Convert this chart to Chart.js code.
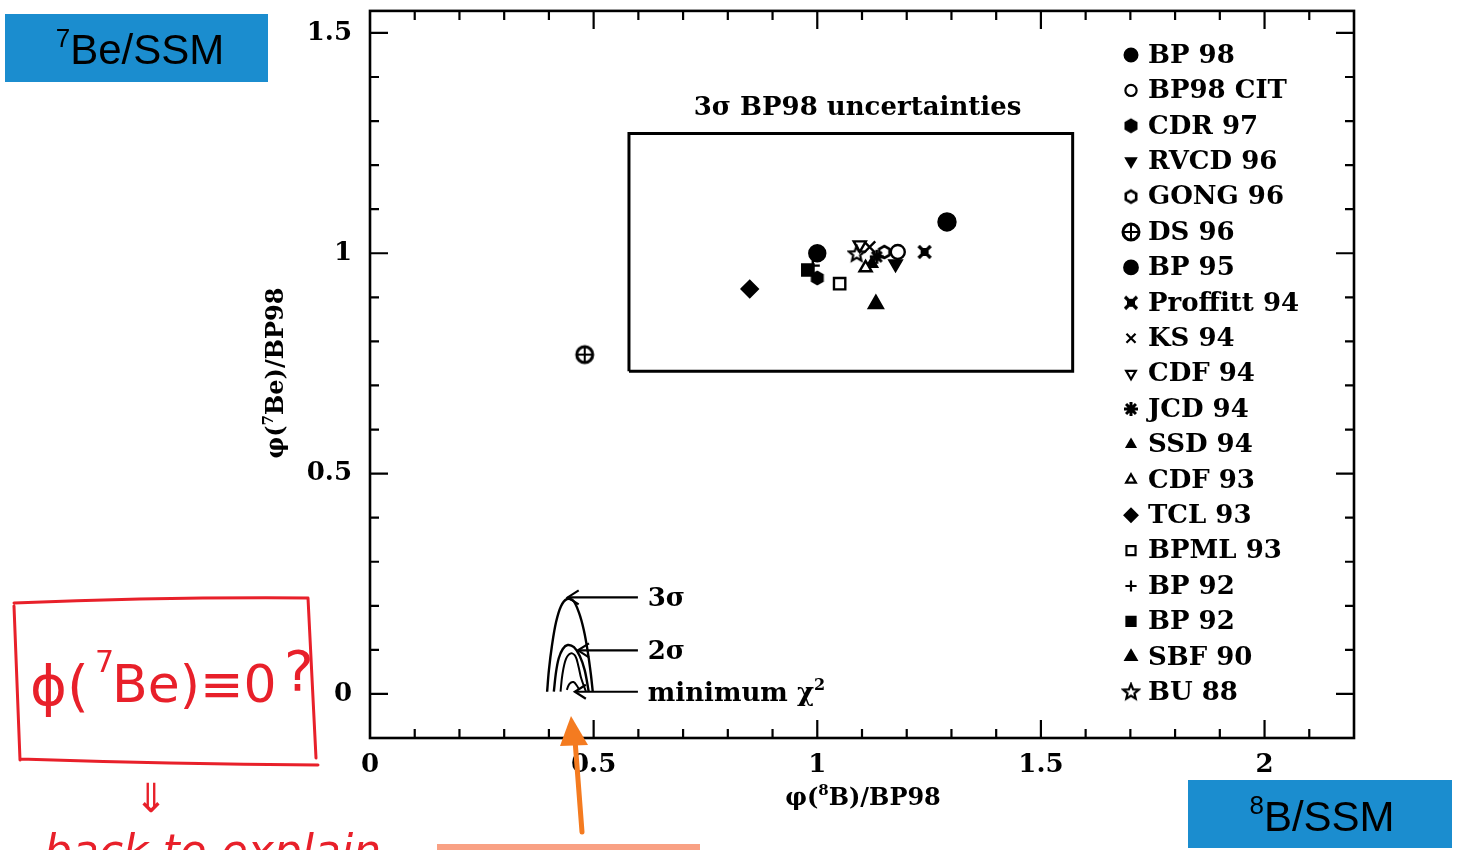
<!DOCTYPE html>
<html>
<head>
<meta charset="utf-8">
<script src="https://cdn.jsdelivr.net/npm/chart.js@4.4.1/dist/chart.umd.min.js"></script>
<style>
  html, body { margin: 0; padding: 0; background: #fff; }
  #wrap { position: relative; width: 1461px; height: 850px; }
</style>
</head>
<body>
<div id="wrap"><canvas id="fluxChart"></canvas></div>
<script>
const SERIF = '"DejaVu Serif", serif';
const SANS = '"Liberation Sans", Arial, sans-serif';

// Solar model predictions, fluxes normalised to BP98
const models = ['BP 98', 'BP98 CIT', 'CDR 97', 'RVCD 96', 'GONG 96', 'DS 96', 'BP 95', 'Proffitt 94', 'KS 94',
  'CDF 94', 'JCD 94', 'SSD 94', 'CDF 93', 'TCL 93', 'BPML 93', 'BP 92', 'BP 92', 'SBF 90', 'BU 88'];
const phiB8 = [1.00, 1.18, 1.00, 1.175, 1.15, 0.48, 1.29, 1.24, 1.117,
  1.095, 1.133, 1.122, 1.108, 0.849, 1.05, 0.99, 0.979, 1.131, 1.088];
const phiBe7 = [1.00, 1.003, 0.944, 0.976, 1.003, 0.77, 1.071, 1.003, 1.014,
  1.019, 0.992, 0.976, 0.967, 0.919, 0.931, 0.972, 0.962, 0.885, 0.998];

// 3 sigma BP98 uncertainty box
const boxX = [0.579, 1.571, 1.571, 0.579, 0.579];
const boxY = [0.732, 0.732, 1.272, 1.272, 0.732];

// allowed regions of the fit
const contour3X = [0.396, 0.400, 0.407, 0.416, 0.427, 0.440, 0.454, 0.467, 0.478, 0.487, 0.494, 0.498];
const contour3Y = [0.005, 0.054, 0.111, 0.163, 0.199, 0.215, 0.212, 0.185, 0.145, 0.095, 0.043, 0.005];
const contour2X = [0.411, 0.416, 0.422, 0.431, 0.442, 0.456, 0.469, 0.480, 0.489];
const contour2Y = [0.005, 0.050, 0.081, 0.102, 0.111, 0.106, 0.086, 0.054, 0.005];
const contour1X = [0.426, 0.430, 0.438, 0.449, 0.459, 0.466, 0.472, 0.483];
const contour1Y = [0.005, 0.043, 0.079, 0.092, 0.086, 0.063, 0.036, 0.005];
const minChiX = [0.440, 0.446, 0.455, 0.463, 0.468];
const minChiY = [0.009, 0.023, 0.027, 0.018, 0.009];

// arrow labels
const sigmaLabels = ['3σ', '2σ', 'minimum χ'];
const arrowStartX = [0.442, 0.465, 0.458];
const arrowEndX = [0.599, 0.599, 0.599];
const arrowY = [0.219, 0.099, 0.005];
const labelX = 0.621;

// axes
const xTickVals = [0, 0.5, 1, 1.5, 2];
const yTickVals = [0, 0.5, 1, 1.5];
const xRange = [0, 2.2];
const yRange = [-0.1, 1.55];

const pts = (xs, ys) => xs.map((x, i) => ({ x, y: ys[i] }));

// small canvases for the symbols Chart.js has no built-in style for
function symbol(size, draw) {
  const c = document.createElement('canvas');
  c.width = c.height = size;
  const g = c.getContext('2d');
  g.translate(size / 2, size / 2);
  g.strokeStyle = '#000';
  g.fillStyle = '#000';
  draw(g);
  return c;
}
function hexPath(g, r) {
  g.beginPath();
  for (let k = 0; k < 6; k++) {
    const a = Math.PI / 6 + k * Math.PI / 3;
    g.lineTo(r * Math.cos(a), r * Math.sin(a));
  }
  g.closePath();
}
const hexFilled = symbol(18, g => { hexPath(g, 7.5); g.fill(); });
const hexOpen = symbol(18, g => { hexPath(g, 6); g.lineWidth = 2.6; g.stroke(); });
const circlePlus = symbol(22, g => {
  g.lineWidth = 3;
  g.beginPath(); g.arc(0, 0, 8, 0, Math.PI * 2); g.stroke();
  g.lineWidth = 2;
  g.beginPath(); g.moveTo(-8, 0); g.lineTo(8, 0); g.moveTo(0, -8); g.lineTo(0, 8); g.stroke();
});
const proffittSym = symbol(18, g => {
  g.lineWidth = 3.2;
  g.beginPath(); g.moveTo(-6, -6); g.lineTo(6, 6); g.moveTo(-6, 6); g.lineTo(6, -6); g.stroke();
  g.lineWidth = 2;
  g.strokeRect(-3, -3, 6, 6);
});
const asterisk = symbol(18, g => {
  g.lineWidth = 3;
  g.beginPath();
  for (let k = 0; k < 4; k++) {
    const a = k * Math.PI / 4;
    g.moveTo(-7 * Math.cos(a), -7 * Math.sin(a));
    g.lineTo(7 * Math.cos(a), 7 * Math.sin(a));
  }
  g.stroke();
});
const openStar = symbol(20, g => {
  g.lineWidth = 2.2;
  g.beginPath();
  for (let k = 0; k < 10; k++) {
    const r = k % 2 ? 3.6 : 8;
    const a = -Math.PI / 2 + k * Math.PI / 5;
    g.lineTo(r * Math.cos(a), r * Math.sin(a));
  }
  g.closePath();
  g.stroke();
});

// marker look for each model, in the same order as `models`
const markerStyles = [
  { pointStyle: 'circle', radius: 8, fill: true },
  { pointStyle: 'circle', radius: 7, fill: false },
  { pointStyle: hexFilled, radius: 7, fill: true },
  { pointStyle: 'triangle', radius: 7, rotation: 180, fill: true },
  { pointStyle: hexOpen, radius: 6, fill: false },
  { pointStyle: circlePlus, radius: 8, fill: false },
  { pointStyle: 'circle', radius: 8.5, fill: true },
  { pointStyle: proffittSym, radius: 7, fill: false },
  { pointStyle: 'crossRot', radius: 8, fill: false },
  { pointStyle: 'triangle', radius: 7, rotation: 180, fill: false },
  { pointStyle: asterisk, radius: 7, fill: true },
  { pointStyle: 'triangle', radius: 6, fill: true },
  { pointStyle: 'triangle', radius: 7, fill: false },
  { pointStyle: 'rectRot', radius: 8, fill: true },
  { pointStyle: 'rect', radius: 8, fill: false },
  { pointStyle: 'cross', radius: 7, fill: false },
  { pointStyle: 'rect', radius: 8, fill: true },
  { pointStyle: 'triangle', radius: 8, fill: true },
  { pointStyle: openStar, radius: 8, fill: false }
];

const modelSets = models.map((name, i) => {
  const st = markerStyles[i];
  return {
    label: name,
    isModel: true,
    data: [{ x: phiB8[i], y: phiBe7[i] }],
    showLine: false,
    pointStyle: st.pointStyle,
    pointRadius: st.radius,
    pointRotation: st.rotation || 0,
    pointBackgroundColor: st.fill ? '#000' : '#fff',
    pointBorderColor: '#000',
    pointBorderWidth: 2.4
  };
}).reverse();

const lineSet = (data, extra) => Object.assign({
  data,
  showLine: true,
  borderColor: '#000',
  borderWidth: 2.4,
  pointRadius: 0,
  fill: false
}, extra || {});

const datasets = [
  lineSet(pts(boxX, boxY), { borderWidth: 3 }),
  lineSet(pts(contour3X, contour3Y), { tension: 0.35 }),
  lineSet(pts(contour2X, contour2Y), { tension: 0.35 }),
  lineSet(pts(contour1X, contour1Y), { tension: 0.35, borderWidth: 2 }),
  lineSet(pts(minChiX, minChiY), { tension: 0.4, borderWidth: 2 }),
  ...arrowY.map((y, i) => lineSet([{ x: arrowStartX[i], y }, { x: arrowEndX[i], y }], { borderWidth: 2.2 })),
  ...modelSets
];

// frame with inward ticks on all four sides
const framePlugin = {
  id: 'frame',
  afterDraw(chart) {
    const { ctx, chartArea: a, scales: { x, y } } = chart;
    ctx.save();
    ctx.strokeStyle = '#000';
    ctx.lineWidth = 2.6;
    ctx.strokeRect(a.left, a.top, a.right - a.left, a.bottom - a.top);
    ctx.lineWidth = 2.2;
    ctx.beginPath();
    for (let k = 1; k < 22; k++) {
      const px = x.getPixelForValue(k / 10);
      const len = k % 5 === 0 ? 18 : 9;
      ctx.moveTo(px, a.bottom); ctx.lineTo(px, a.bottom - len);
      ctx.moveTo(px, a.top); ctx.lineTo(px, a.top + len);
    }
    for (let k = 0; k <= 15; k++) {
      const py = y.getPixelForValue(k / 10);
      const len = k % 5 === 0 ? 18 : 9;
      ctx.moveTo(a.left, py); ctx.lineTo(a.left + len, py);
      ctx.moveTo(a.right, py); ctx.lineTo(a.right - len, py);
    }
    ctx.stroke();
    ctx.restore();
  }
};

// text with superscript pieces: parts = [[text, isSup], ...]
function drawRich(ctx, parts, x, y, size, weight, family, align) {
  const fontFor = sup => `${weight} ${sup ? Math.round(size * 0.62) : size}px ${family}`;
  let total = 0;
  parts.forEach(([t, s]) => { ctx.font = fontFor(s); total += ctx.measureText(t).width; });
  let cx = align === 'center' ? x - total / 2 : align === 'right' ? x - total : x;
  ctx.textAlign = 'left';
  parts.forEach(([t, s]) => {
    ctx.font = fontFor(s);
    ctx.fillText(t, cx, s ? y - size * 0.4 : y);
    cx += ctx.measureText(t).width;
  });
}

const notesPlugin = {
  id: 'notes',
  afterDraw(chart) {
    const { ctx, scales: { x, y } } = chart;
    ctx.save();
    ctx.fillStyle = '#000';
    ctx.textBaseline = 'alphabetic';

    // axis titles
    drawRich(ctx, [['φ(', false], ['8', true], ['B)/BP98', false]], 863, 805, 24, 'bold', SERIF, 'center');
    ctx.save();
    ctx.translate(283, 373);
    ctx.rotate(-Math.PI / 2);
    drawRich(ctx, [['φ(', false], ['7', true], ['Be)/BP98', false]], 0, 0, 24, 'bold', SERIF, 'center');
    ctx.restore();

    // box title
    ctx.textBaseline = 'middle';
    ctx.textAlign = 'center';
    ctx.font = `bold 26px ${SERIF}`;
    ctx.fillText('3σ BP98 uncertainties', x.getPixelForValue(1.09), y.getPixelForValue(1.33));

    // arrow heads and labels
    ctx.strokeStyle = '#000';
    ctx.lineWidth = 2.2;
    sigmaLabels.forEach((lab, i) => {
      const tx = x.getPixelForValue(arrowStartX[i]);
      const ty = y.getPixelForValue(arrowY[i]);
      ctx.beginPath();
      ctx.moveTo(tx + 11, ty - 7); ctx.lineTo(tx, ty); ctx.lineTo(tx + 11, ty + 7);
      ctx.stroke();
      const lx = x.getPixelForValue(labelX);
      ctx.textBaseline = 'alphabetic';
      const parts = i === 2 ? [[lab, false], ['2', true]] : [[lab, false]];
      drawRich(ctx, parts, lx, ty + 9, 26, 'bold', SERIF, 'left');
    });

    // legend
    const legendSets = chart.data.datasets.filter(d => d.isModel).slice().reverse();
    legendSets.forEach((d, i) => {
      const ly = 55 + i * 35.4;
      ctx.fillStyle = d.pointBackgroundColor;
      ctx.strokeStyle = '#000';
      ctx.lineWidth = 2.2;
      Chart.helpers.drawPoint(ctx, {
        pointStyle: d.pointStyle,
        rotation: d.pointRotation,
        radius: d.pointRadius * 0.8,
        borderWidth: 2.2
      }, 1131, ly);
      ctx.fillStyle = '#000';
      ctx.textAlign = 'left';
      ctx.textBaseline = 'middle';
      ctx.font = `bold 26px ${SERIF}`;
      ctx.fillText(d.label, 1148, ly + 1);
    });

    // blue axis tags
    ctx.fillStyle = '#1b8dcf';
    ctx.fillRect(5, 14, 263, 68);
    ctx.fillRect(1188, 780, 264, 68);
    ctx.fillStyle = '#000';
    ctx.textBaseline = 'alphabetic';
    drawRich(ctx, [['7', true], ['Be/SSM', false]], 140, 64, 42, 'normal', SANS, 'center');
    drawRich(ctx, [['8', true], ['B/SSM', false]], 1322, 831, 42, 'normal', SANS, 'center');

    // handwritten red note
    ctx.strokeStyle = '#e8202a';
    ctx.fillStyle = '#e8202a';
    ctx.lineWidth = 3;
    ctx.lineCap = 'round';
    ctx.beginPath();
    ctx.moveTo(14, 606); ctx.lineTo(20, 760);
    ctx.moveTo(14, 603); ctx.quadraticCurveTo(160, 597, 308, 598);
    ctx.moveTo(308, 598); ctx.lineTo(316, 758);
    ctx.moveTo(20, 759); ctx.quadraticCurveTo(170, 764, 318, 765);
    ctx.stroke();
    ctx.font = `56px "DejaVu Sans", sans-serif`;
    ctx.textAlign = 'left';
    ctx.fillText('ϕ(', 30, 705);
    ctx.font = `30px "DejaVu Sans", sans-serif`;
    ctx.fillText('7', 95, 672);
    ctx.font = `52px "DejaVu Sans", sans-serif`;
    ctx.fillText('Be)≡0', 112, 702);
    ctx.font = `56px "DejaVu Sans", sans-serif`;
    ctx.fillText('?', 284, 690);
    ctx.font = `40px "DejaVu Sans", sans-serif`;
    ctx.fillText('⇓', 134, 812);
    ctx.font = `italic 44px "DejaVu Sans", sans-serif`;
    ctx.fillText('back to explain', 44, 866);

    // orange pointer to the best fit
    ctx.strokeStyle = '#f47b20';
    ctx.fillStyle = '#f47b20';
    ctx.lineWidth = 5;
    ctx.beginPath();
    ctx.moveTo(582, 832); ctx.lineTo(575, 740);
    ctx.stroke();
    ctx.beginPath();
    ctx.moveTo(571, 716); ctx.lineTo(588, 745); ctx.lineTo(560, 746); ctx.closePath();
    ctx.fill();
    ctx.fillStyle = '#f9a184';
    ctx.fillRect(437, 844, 263, 6);
    ctx.restore();
  }
};

new Chart(document.getElementById('fluxChart'), {
  type: 'scatter',
  data: { datasets },
  options: {
    responsive: true,
    maintainAspectRatio: false,
    animation: false,
    events: [],
    layout: { padding: { top: 8, right: 107, left: 0, bottom: 0 } },
    scales: {
      x: {
        type: 'linear',
        min: xRange[0],
        max: xRange[1],
        grid: { display: false, drawTicks: false },
        border: { display: false },
        afterBuildTicks: s => { s.ticks = xTickVals.map(v => ({ value: v })); },
        afterFit: s => { s.height = 112; s.paddingLeft = 0; s.paddingRight = 0; },
        ticks: {
          autoSkip: false,
          maxRotation: 0,
          padding: 12,
          color: '#000',
          callback: v => String(v),
          font: { family: SERIF, size: 26, weight: 'bold' }
        }
      },
      y: {
        type: 'linear',
        min: yRange[0],
        max: yRange[1],
        grid: { display: false, drawTicks: false },
        border: { display: false },
        afterBuildTicks: s => { s.ticks = yTickVals.map(v => ({ value: v })); },
        afterFit: s => { s.width = 370; s.paddingTop = 0; s.paddingBottom = 0; },
        ticks: {
          autoSkip: false,
          padding: 18,
          color: '#000',
          callback: v => String(v),
          font: { family: SERIF, size: 26, weight: 'bold' }
        }
      }
    },
    plugins: {
      legend: { display: false },
      tooltip: { enabled: false }
    }
  },
  plugins: [framePlugin, notesPlugin]
});
</script>
</body>
</html>
